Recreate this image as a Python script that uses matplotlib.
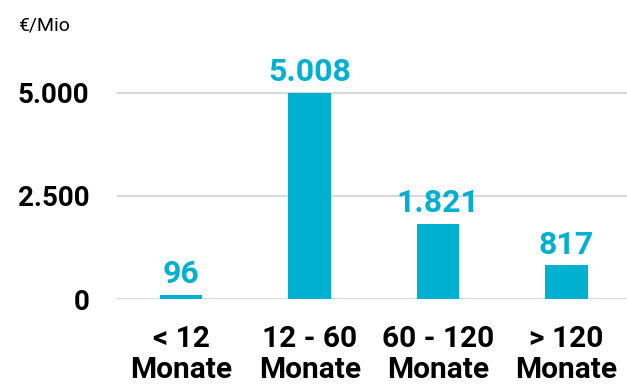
import numpy as np
import matplotlib.pyplot as plt

categories = ['< 12\nMonate', '12 - 60\nMonate', '60 - 120\nMonate', '> 120\nMonate']
values = [96, 5008, 1821, 817]
value_labels = ['96', '5.008', '1.821', '817']
yticks = [0, 2500, 5000]
ytick_labels = ['0', '2.500', '5.000']

cyan = '#00b0d0'
plt.rcParams['font.family'] = ['Roboto', 'DejaVu Sans']

fig = plt.figure(figsize=(6.27, 3.87), dpi=100)
ax = fig.add_axes([117 / 627, 88 / 387, 510 / 627, 239 / 387])

x = np.arange(len(values))
bars = ax.bar(x, values, width=0.33, color=cyan, zorder=3)

for b, lab in zip(bars, value_labels):
    ax.annotate(lab, (b.get_x() + b.get_width() / 2, b.get_height()),
                xytext=(0, 4), textcoords='offset points',
                ha='center', va='bottom', fontsize=23, fontweight='bold',
                color=cyan)

ax.set_xlim(-0.5, 3.47)
ax.set_ylim(0, 5800)
ax.set_yticks(yticks)
ax.set_yticklabels(ytick_labels, fontsize=20, fontweight='bold')
ax.set_xticks(x)
ax.set_xticklabels(categories, fontsize=21.5, fontweight='bold', linespacing=1.12)
ax.tick_params(axis='y', length=0, pad=20)
ax.tick_params(axis='x', length=0, pad=19)

ax.grid(axis='y', color='#d9d9d9', linewidth=1.5, zorder=0)
for s in ax.spines.values():
    s.set_visible(False)

fig.text(18 / 627, 1 - 25 / 387, '€/Mio', fontsize=14, va='center', ha='left')

fig.savefig('out.png', dpi=100)
